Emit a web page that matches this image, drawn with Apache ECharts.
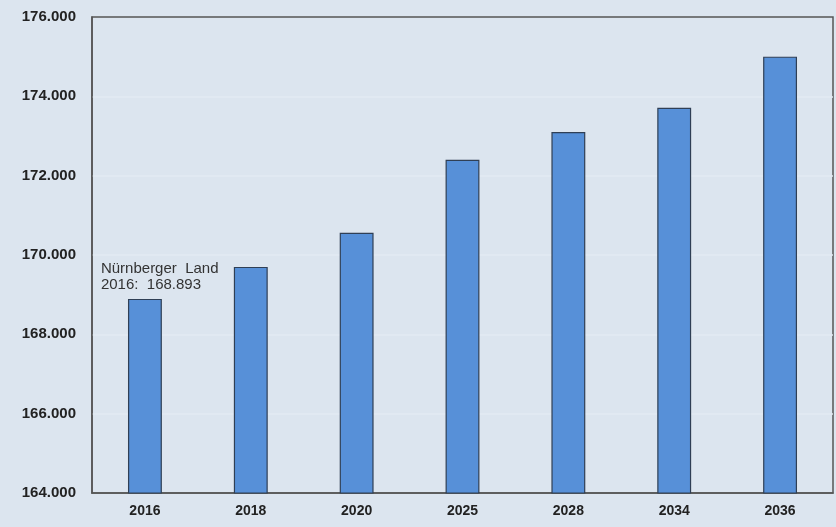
<!DOCTYPE html>
<html>
<head>
<meta charset="utf-8">
<script src="https://cdn.jsdelivr.net/npm/echarts@6/dist/echarts.min.js"></script>
<style>
html, body { margin: 0; padding: 0; background: #dce5ef; }
#main { width: 836px; height: 527px; }
</style>
</head>
<body>
<div id="main"></div>
<script>
var years = ['2016', '2018', '2020', '2025', '2028', '2034', '2036'];
var population = [168893, 169700, 170560, 172400, 173100, 173710, 175000];
var yMin = 164000;
var yMax = 176000;
var yStep = 2000;

function deNum(v) {
	return String(v).replace(/\B(?=(\d{3})+(?!\d))/g, '.');
}

var chartDom = document.getElementById('main');
var myChart = echarts.init(chartDom);
var option;
option = {
	backgroundColor: '#dce5ef',
	animation: false,
	grid: {
		left: 92,
		right: 3,
		top: 17,
		bottom: 34,
		show: true,
		borderColor: '#555',
		borderWidth: 1.5,
		backgroundColor: 'transparent'
	},
	xAxis: {
		type: 'category',
		data: years,
		axisLine: { lineStyle: { color: '#555', width: 1.5 } },
		axisTick: { show: false },
		axisLabel: {
			color: '#222',
			fontWeight: 'bold',
			fontSize: 14,
			fontFamily: 'Liberation Sans',
			margin: 11
		}
	},
	yAxis: {
		type: 'value',
		min: yMin,
		max: yMax,
		interval: yStep,
		axisLine: { show: true, lineStyle: { color: '#555', width: 1.5 } },
		axisTick: { show: false },
		splitLine: { showMinLine: false, showMaxLine: false, lineStyle: { color: '#e3eaf3', width: 1.5 } },
		axisLabel: {
			color: '#222',
			fontWeight: 'bold',
			fontSize: 15,
			fontFamily: 'Liberation Sans',
			margin: 16,
			formatter: function (v) { return deNum(v); }
		}
	},
	series: [{
		type: 'bar',
		data: population.map(function (v, i) {
			var item = { value: v };
			if (i === 0) {
				item.label = {
					show: true,
					position: 'top',
					offset: [-44, -1],
					align: 'left',
					color: '#333',
					fontSize: 15,
					lineHeight: 16,
					fontFamily: 'Liberation Sans',
					formatter: function (p) {
						return 'Nürnberger  Land\n' + years[0] + ':  ' + deNum(p.value);
					}
				};
			}
			return item;
		}),
		barWidth: '32%',
		itemStyle: {
			color: '#5790d8',
			borderColor: '#2f3f55',
			borderWidth: 1.2
		}
	}]
};
option && myChart.setOption(option);
</script>
</body>
</html>
